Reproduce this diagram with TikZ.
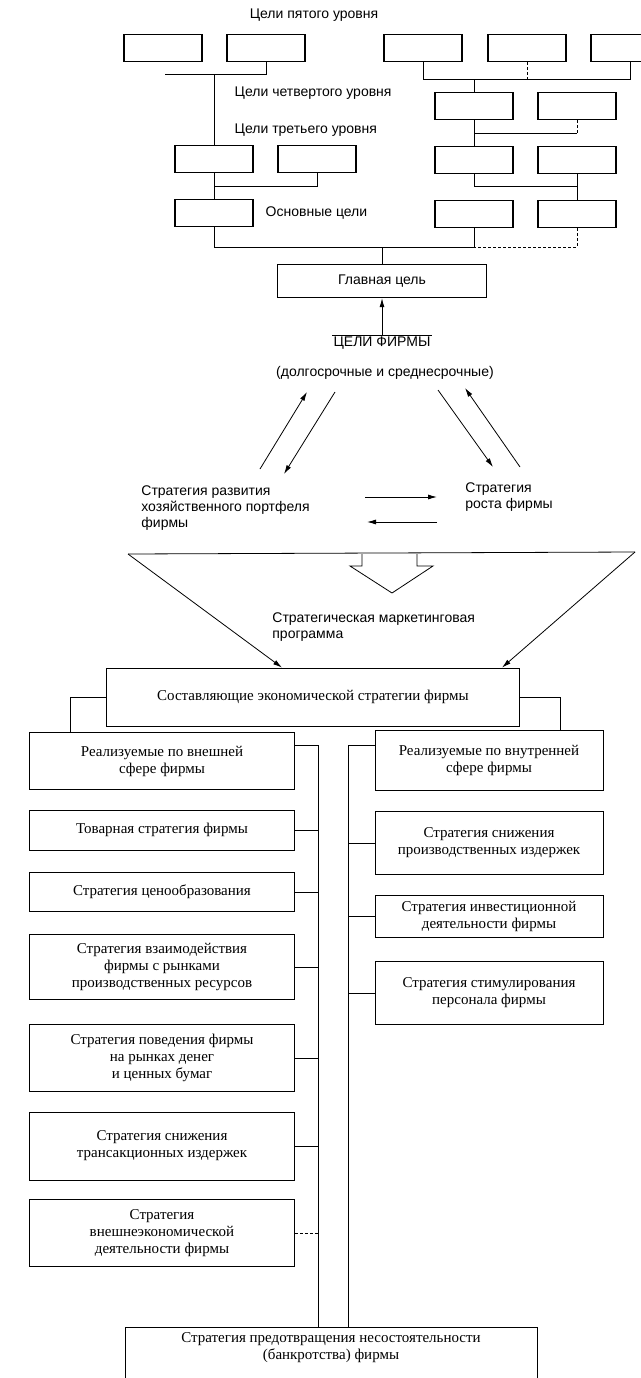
\documentclass[tikz,border=0pt]{standalone}
\usepackage{fontspec}
\setmainfont{Liberation Sans}
\newfontfamily\boxfont{Liberation Serif}
\usetikzlibrary{arrows.meta}
\begin{document}
\begin{tikzpicture}[x=1pt, y=-1pt, thick, >={Latex[length=9pt,width=5pt]},
    font=\fontsize{14}{16}\selectfont,
    goal/.style={draw, line width=1.4pt, minimum width=78pt, minimum height=27pt, inner sep=0pt},
    lbox/.style={draw, minimum width=265pt, align=center, inner sep=2pt, font=\boxfont\fontsize{15}{17}\selectfont},
    rbox/.style={draw, minimum width=228pt, align=center, inner sep=2pt, font=\boxfont\fontsize{15}{17}\selectfont}]
    \useasboundingbox (0,0) rectangle (640,1378);

    % Goal tree
    \node at (314,15) {Цели пятого уровня};
    \node (p1) [goal] at (163,48) {};
    \node (p2) [goal] at (266,48) {};
    \node (p3) [goal] at (423,48) {};
    \node (p4) [goal] at (527,48) {};
    \node (p5) [goal] at (630,48) {};
    \node [anchor=west] at (231,93) {Цели четвертого уровня};
    \node (f1) [goal] at (474,106) {};
    \node (f2) [goal] at (577,106) {};
    \node [anchor=west] at (231,130) {Цели третьего уровня};
    \node (t1) [goal] at (214,159) {};
    \node (t2) [goal] at (317,159) {};
    \node (t3) [goal] at (474,160) {};
    \node (t4) [goal] at (577,160) {};
    \node (b1) [goal] at (214,213) {};
    \node [anchor=west] at (262,213) {Основные цели};
    \node (b3) [goal] at (474,214) {};
    \node (b4) [goal] at (577,214) {};
    \node (main) [goal, minimum width=209pt, minimum height=33pt] at (382,281) {Главная цель};

    \coordinate (l5) at (165,74);
    \coordinate (r5) at (423,79);
    \coordinate (r4) at (474,133);
    \coordinate (l3) at (214,186);
    \coordinate (r3) at (474,186);
    \coordinate (m) at (382,247);
    \draw (p2.south) |- (l5);
    \draw (t1.north) -- (t1.north |- l5);
    \draw (p3.south) |- (p5.south |- r5) -- (p5.south);
    \draw[densely dashed] (p4.south) -- (p4.south |- r5);
    \draw (f1.south) -- (t3.north);
    \draw (f1.north) -- (f1.north |- r5);
    \draw (r4) -- (r4 -| f2.south);
    \draw[densely dashed] (f2.south) -- (f2.south |- r4);
    \draw (t1.south) -- (b1.north);
    \draw (l3) -| (t2.south);
    \draw (t3.south) -- (r3) -- (r3 -| t4.south);
    \draw (t4.south) -- (b4.north);
    \draw (b1.south) |- (m);
    \draw (b3.south) |- (m);
    \draw[densely dashed] (b4.south) |- (m);
    \draw (m) -- (main.north);

    % Firm goals and strategies
    \node (goals) [inner sep=1pt] at (382,343) {ЦЕЛИ ФИРМЫ};
    \draw (goals.north west) -- (goals.north east);
    \draw[->] (goals.north) -- (main.south);
    \node (term) at (385,373) {(долгосрочные и среднесрочные)};
    \node (portf) [anchor=north west, align=left, inner sep=0pt] at (141,485) {Стратегия развития\\хозяйственного портфеля\\фирмы};
    \node (growth) [anchor=north west, align=left, inner sep=0pt] at (465,482) {Стратегия\\роста фирмы};
    \coordinate (a1) at (260,469); \coordinate (a2) at (307,392);
    \coordinate (a3) at (335,392); \coordinate (a4) at (284,474);
    \coordinate (a5) at (438,390); \coordinate (a6) at (493,467);
    \coordinate (a7) at (520,467); \coordinate (a8) at (465,388);
    \draw[->] (a1) -- (a2);
    \draw[->] (a3) -- (a4);
    \draw[->] (a5) -- (a6);
    \draw[->] (a7) -- (a8);
    \coordinate (h1) at (365,497); \coordinate (h2) at (437,497);
    \coordinate (h3) at (437,522); \coordinate (h4) at (367,522);
    \draw[->] (h1) -- (h2);
    \draw[->] (h3) -- (h4);

    % Marketing program
    \coordinate (tl) at (128,554);
    \coordinate (tr) at (635,552);
    \draw (tl) -- (tr);
    \draw (362,554) -- (362,566) -- (350,566) -- (392,593) -- (433,566) -- (417,566) -- (417,554);
    \node (prog) [anchor=north west, align=left, inner sep=0pt] at (272,612) {Стратегическая маркетинговая\\программа};
    \node (comp) [lbox, minimum width=413pt, minimum height=58pt] at (313,697) {Составляющие экономической стратегии фирмы};
    \draw[->] (tl) -- ([xshift=-31pt]comp.north);
    \draw[->] (tr) -- ([xshift=189pt]comp.north);

    % Components
    \node (ext) [lbox, minimum height=57pt] at (162,761) {Реализуемые по внешней\\сфере фирмы};
    \node (prod) [lbox, minimum height=40pt] at (162,830) {Товарная стратегия фирмы};
    \node (price) [lbox, minimum height=39pt] at (162,892) {Стратегия ценообразования};
    \node (res) [lbox, minimum height=65pt] at (162,967) {Стратегия взаимодействия\\фирмы с рынками\\производственных ресурсов};
    \node (fin) [lbox, minimum height=67pt] at (162,1058) {Стратегия поведения фирмы\\на рынках денег\\и ценных бумаг};
    \node (trans) [lbox, minimum height=68pt] at (162,1146) {Стратегия снижения\\трансакционных издержек};
    \node (fea) [lbox, minimum height=67pt] at (162,1233) {Стратегия\\внешнеэкономической\\деятельности фирмы};
    \node (int) [rbox, minimum height=60pt] at (489,760) {Реализуемые по внутренней\\сфере фирмы};
    \node (cost) [rbox, minimum height=63pt] at (489,843) {Стратегия снижения\\производственных издержек};
    \node (inv) [rbox, minimum height=42pt] at (489,916) {Стратегия инвестиционной\\деятельности фирмы};
    \node (stim) [rbox, minimum height=63pt] at (489,993) {Стратегия стимулирования\\персонала фирмы};
    \node (bank) [draw, minimum width=412pt, minimum height=120pt, anchor=north] at (331,1327) {};
    \node [below=2pt, align=center, font=\boxfont\fontsize{15}{17}\selectfont] at (bank.north) {Стратегия предотвращения несостоятельности\\(банкротства) фирмы};

    \coordinate (cl) at (70,697);
    \coordinate (cr) at (560,697);
    \coordinate (vl) at (318,745);
    \coordinate (vr) at (348,745);
    \draw (comp.west) -- (cl) -- (cl |- ext.north);
    \draw (comp.east) -- (cr) -- (cr |- int.north);
    \draw (ext.east |- vl) -- (vl) -- (vl |- bank.north);
    \draw (int.west |- vr) -- (vr) -- (vr |- bank.north);
    \foreach \n in {prod,price,res,fin,trans}
        \draw (\n.east) -- (\n.east -| vl);
    \draw[densely dashed] (fea.east) -- (fea.east -| vl);
    \foreach \n in {cost,inv,stim}
        \draw (\n.west) -- (\n.west -| vr);
\end{tikzpicture}
\end{document}
